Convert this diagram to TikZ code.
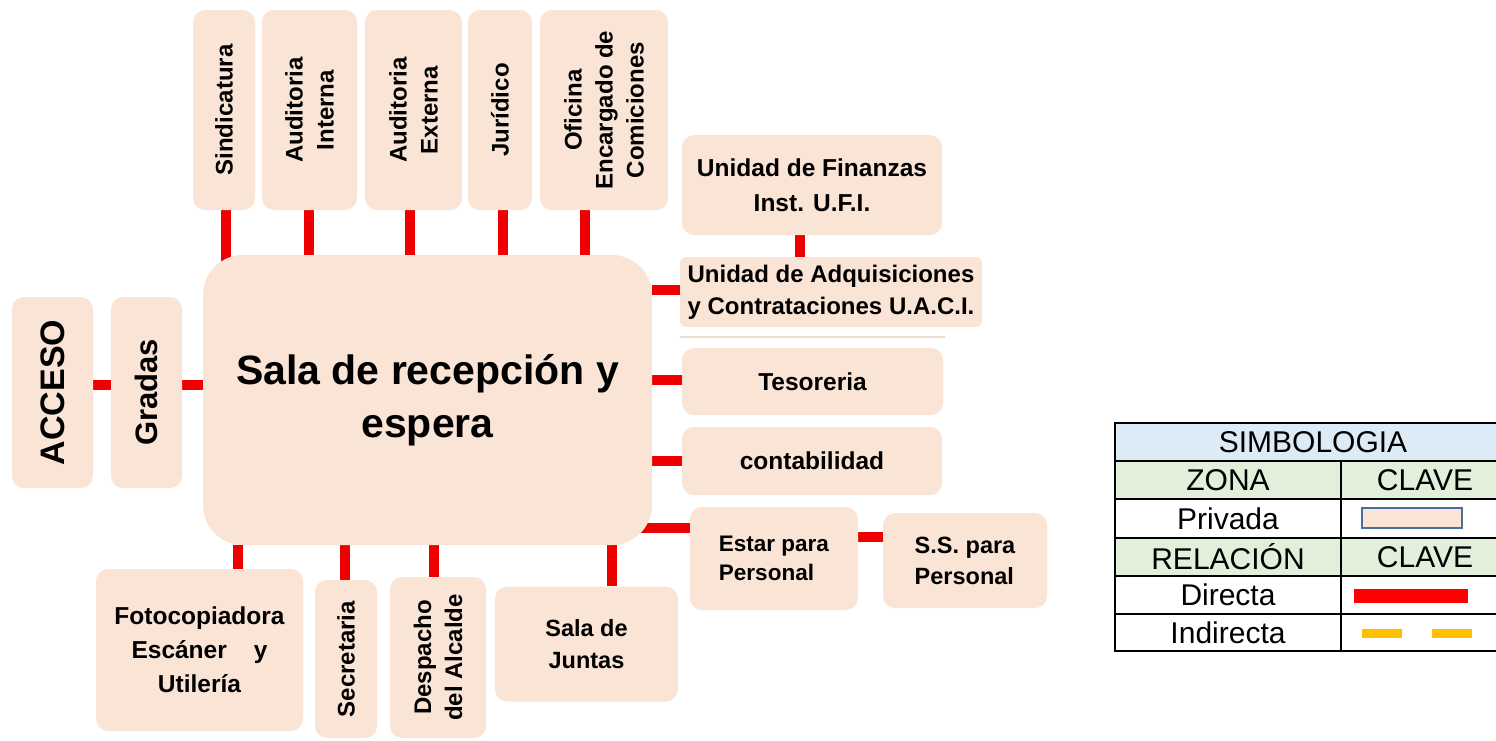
\documentclass[tikz,border=0pt]{standalone}
\usepackage{fontspec}
\setmainfont{Liberation Sans}
\usetikzlibrary{backgrounds}
\definecolor{roomfill}{RGB}{250,228,213}
\definecolor{relred}{RGB}{238,0,0}
\definecolor{indyellow}{RGB}{255,192,0}
\definecolor{headblue}{RGB}{221,235,247}
\definecolor{headgreen}{RGB}{226,239,218}
\definecolor{keyborder}{RGB}{65,113,156}
\definecolor{faintline}{RGB}{235,222,200}
\newcommand{\myfs}[2]{\fontsize{#1}{#2}\selectfont}
\tikzset{
  room/.style={fill=roomfill, rounded corners=12pt, inner sep=0pt, align=center, font=\bfseries\myfs{24}{33}},
  bigroom/.style={room, rounded corners=40pt, font=\bfseries\myfs{41}{53}},
  vtext/.style={rotate=90, inner sep=0pt, align=center, font=\bfseries\myfs{24}{31}},
  rel/.style={draw=relred, line width=10pt},
  cell/.style={inner sep=0pt, font=\myfs{30}{36}},
}
\begin{document}
\begin{tikzpicture}[x=1pt,y=-1pt]
\useasboundingbox (0,0) rectangle (1496,740);
% top boxes
\node[room, minimum width=62pt, minimum height=200pt] (sind) at (224,110) {};
\node[vtext] (sindt) at (sind) {Sindicatura};
\node[room, minimum width=95pt, minimum height=200pt] (audi) at (309.5,110) {};
\node[vtext] (audit) at (audi) {Auditoria\\Interna};
\node[room, minimum width=97pt, minimum height=200pt] (aude) at (413.5,110) {};
\node[vtext] (audet) at (aude) {Auditoria\\Externa};
\node[room, minimum width=64pt, minimum height=200pt] (juri) at (500,110) {};
\node[vtext] (jurit) at (juri) {Jurídico};
\node[room, minimum width=128pt, minimum height=200pt] (ofic) at (604,110) {};
\node[vtext] (ofict) at (ofic) {Oficina\\Encargado de\\Comiciones};
% main
\node[bigroom, minimum width=449pt, minimum height=290pt] (sala) at (427.5,400) {Sala de recepción y\\espera};
% left
\node[room, minimum width=81pt, minimum height=191pt] (acceso) at (52.5,392.5) {};
\node[vtext, font=\bfseries\myfs{34}{40}] (accesot) at (acceso) {ACCESO};
\node[room, minimum width=71pt, minimum height=191pt] (gradas) at (146.5,392.5) {};
\node[vtext, font=\bfseries\myfs{31}{38}] (gradast) at (gradas) {Gradas};
% right
\node[room, minimum width=260pt, minimum height=100pt, font=\bfseries\myfs{24.5}{35}] (finz) at (812,185) {Unidad de Finanzas\\Inst. U.F.I.};
\node[room, rounded corners=6pt, minimum width=302pt, minimum height=70pt, align=left, font=\bfseries\myfs{24}{32}] (uaci) at (831,292) {Unidad de Adquisiciones\\y Contrataciones U.A.C.I.};
\node[room, minimum width=261pt, minimum height=67pt, font=\bfseries\myfs{24.5}{30}] (teso) at (812.5,381.5) {Tesoreria};
\node[room, minimum width=260pt, minimum height=68pt, font=\bfseries\myfs{24.5}{30}] (cont) at (812,461) {contabilidad};
\node[room, minimum width=168pt, minimum height=103pt, align=left, font=\bfseries\myfs{22.5}{29}] (estar) at (774,558.5) {Estar para\\Personal};
\node[room, minimum width=164pt, minimum height=95pt, align=left, font=\bfseries\myfs{23.5}{31}] (ss) at (965,560.5) {S.S. para\\Personal};
% bottom
\node[room, minimum width=207pt, minimum height=162pt, font=\bfseries\myfs{24.5}{34}] (foto) at (199.5,650) {Fotocopiadora\\Escáner\hspace{1.1em}y\\Utilería};
\node[room, minimum width=62pt, minimum height=158pt] (secr) at (346,659) {};
\node[vtext] (secrt) at (secr) {Secretaria};
\node[room, minimum width=96pt, minimum height=161pt] (desp) at (438,657.5) {};
\node[vtext] (despt) at (desp) {Despacho\\del Alcalde};
\node[room, minimum width=183pt, minimum height=115pt, font=\bfseries\myfs{23.5}{32}] (junt) at (586.5,644) {Sala de\\Juntas};
% faint line
\draw[faintline, line width=1.5pt] (uaci.south west |- 0,337) -- (945,337);
% connectors
\begin{scope}[on background layer]
\draw[rel] (acceso.east |- 0,385) -- (gradas.west |- 0,385);
\draw[rel] (gradas.east |- 0,385) -- (sala.center |- 0,385);
\draw[rel] (sind.south -| 226,0) -- (sala.center -| 226,0);
\draw[rel] (audi.south -| 309,0) -- (sala.north -| 309,0);
\draw[rel] (aude.south -| 410,0) -- (sala.north -| 410,0);
\draw[rel] (juri.south -| 503,0) -- (sala.north -| 503,0);
\draw[rel] (ofic.south -| 585,0) -- (sala.north -| 585,0);
\draw[rel] (finz.south -| 800,0) -- (uaci.north -| 800,0);
\draw[rel] (sala.east |- 0,290) -- (uaci.west |- 0,290);
\draw[rel] (sala.east |- 0,380) -- (teso.west |- 0,380);
\draw[rel] (sala.east |- 0,461) -- (cont.west |- 0,461);
\draw[rel] (sala.center |- 0,528) -- (estar.west |- 0,528);
\draw[rel] (estar.east |- 0,537) -- (ss.west |- 0,537);
\draw[rel] (sala.south -| 238,0) -- (foto.north -| 238,0);
\draw[rel] (sala.south -| 345,0) -- (secr.north -| 345,0);
\draw[rel] (sala.south -| 434,0) -- (desp.north -| 434,0);
\draw[rel] (sala.south -| 612,0) -- (junt.north -| 612,0);
\end{scope}
% legend
\fill[headblue] (1115,423) rectangle (1510,461);
\fill[headgreen] (1115,461) rectangle (1510,499);
\fill[headgreen] (1115,538) rectangle (1510,576);
\draw[line width=1.5pt] (1115,423) rectangle (1510,651);
\foreach \yy in {461,499,538,576,614} \draw[line width=1.5pt] (1115,\yy) -- (1510,\yy);
\draw[line width=1.5pt] (1341,461) -- (1341,651);
\node[cell] (simb) at (1313,442) {SIMBOLOGIA};
\node[cell] (zona) at (1228,480) {ZONA};
\node[cell] (clave1) at (1425,480) {CLAVE};
\node[cell] (priv) at (1228,519) {Privada};
\node[cell] (relac) at (1228,557) {RELACIÓN};
\node[cell] (clave2) at (1425,557) {CLAVE};
\node[cell] (dir) at (1228,595) {Directa};
\node[cell] (indir) at (1228,633) {Indirecta};
\draw[fill=roomfill, draw=keyborder, line width=2pt] (1362,508) rectangle (1462,528);
\fill[red] (1354,589) rectangle (1468,603);
\fill[indyellow] (1362,629) rectangle (1402,638);
\fill[indyellow] (1432,629) rectangle (1472,638);
\end{tikzpicture}
\end{document}
